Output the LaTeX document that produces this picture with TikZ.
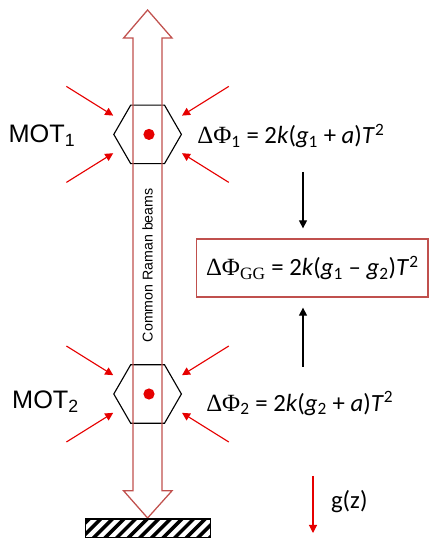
\documentclass[tikz,border=0pt]{standalone}
\usepackage{fontspec}
\setmainfont{Carlito}
\newfontfamily\armfont{Liberation Sans}
\newfontfamily\phifont{Liberation Serif}
\usetikzlibrary{arrows.meta, shapes.geometric, positioning, calc}
\definecolor{BeamRed}{RGB}{192,80,77}
\definecolor{TrapRed}{RGB}{230,0,0}
\newcommand{\dphi}{{\phifont ΔΦ}}
\newcommand{\ivar}[1]{\textit{#1}}

\begin{document}
\begin{tikzpicture}[font=\fontsize{17.6}{20}\selectfont,
	mot/.style={regular polygon, regular polygon sides=6, draw=black, line width=0.8pt, minimum size=1.69cm, inner sep=0pt},
	atoms/.style={circle, fill=TrapRed, minimum size=0.28cm, inner sep=0pt},
	cool/.style={-{Triangle[length=2mm,width=2mm]}, TrapRed, line width=0.8pt},
	flow/.style={-{Triangle[length=2mm,width=2mm]}, black, line width=0.8pt},
	motlabel/.style={font=\armfont\fontsize{18}{20}\selectfont}]
	\useasboundingbox (0,0) rectangle (10.75,13.5);

	\foreach \y/\i in {10.14/1, 3.65/2}{
		\node[mot] (hex\i) at (3.69,\y) {};
		\node[atoms] (dot\i) at (3.725,\y) {};
		\foreach \sx/\sy [count=\j] in {-1/1, 1/1, -1/-1, 1/-1}{
			\coordinate (out\i\j) at ($(hex\i.center)+(\sx*2.03,\sy*1.2)$);
			\coordinate (in\i\j) at ($(hex\i.center)+(\sx*0.86,\sy*0.47)$);
			\draw[cool] (out\i\j) -- (in\i\j);
		}
	}

	% beams
	\draw[BeamRed, line width=0.9pt, line join=miter] (3.69,13.25) -- (4.30,12.55) -- (4.05,12.55) -- (4.05,1.23) -- (4.30,1.23)
		-- (3.69,0.55) -- (3.09,1.23) -- (3.325,1.23) -- (3.325,12.55) -- (3.09,12.55) -- cycle;
	\node[rotate=90, font=\armfont\fontsize{10.1}{12}\selectfont] (raman) at (3.69,6.87) {Common Raman beams};

	\node[draw=black, line width=0.8pt, minimum width=3.125cm, minimum height=0.47cm, inner sep=0pt,
		path picture={
			\foreach \s in {-1,-0.71,...,3.6}
				\draw[line width=2.5pt] ($(path picture bounding box.south west)+(\s,-0.05)$) -- ++(0.57,0.57);
		}] (plate) at (3.69,0.29) {};

	\node[motlabel] (mota) at (1.05,10.1) {MOT\textsubscript{1}};
	\node[motlabel] (motb) at (1.14,3.45) {MOT\textsubscript{2}};

	\node[anchor=west, inner sep=0pt] (eqa) at (4.93,10.1) {\dphi\textsubscript{1} = 2\ivar{k}(\ivar{g}\textsubscript{1} + \ivar{a})\ivar{T}\textsuperscript{2}};
	\node[anchor=west, inner sep=0pt] (eqb) at (5.15,3.42) {\dphi\textsubscript{2} = 2\ivar{k}(\ivar{g}\textsubscript{2} + \ivar{a})\ivar{T}\textsuperscript{2}};
	\node[draw=BeamRed, line width=0.9pt, minimum width=5.78cm, minimum height=1.45cm] (gg) at (7.81,6.8) {\dphi\textsubscript{\phifont GG} = 2\ivar{k}(\ivar{g}\textsubscript{1} – \ivar{g}\textsubscript{2})\ivar{T}\textsuperscript{2}};

	\coordinate (fromA) at (7.575,9.2);
	\coordinate (fromB) at (7.575,4.325);
	\draw[flow, shorten >=0.25cm] (fromA) -- (fromA |- gg.north);
	\draw[flow, shorten >=0.25cm] (fromB) -- (fromB |- gg.south);

	\coordinate (gtop) at (7.825,1.6);
	\coordinate (gend) at (7.825,0.175);
	\draw[cool] (gtop) -- (gend);
	\node[anchor=west, inner sep=0pt] (gz) at (8.27,0.97) {g(z)};
\end{tikzpicture}
\end{document}
